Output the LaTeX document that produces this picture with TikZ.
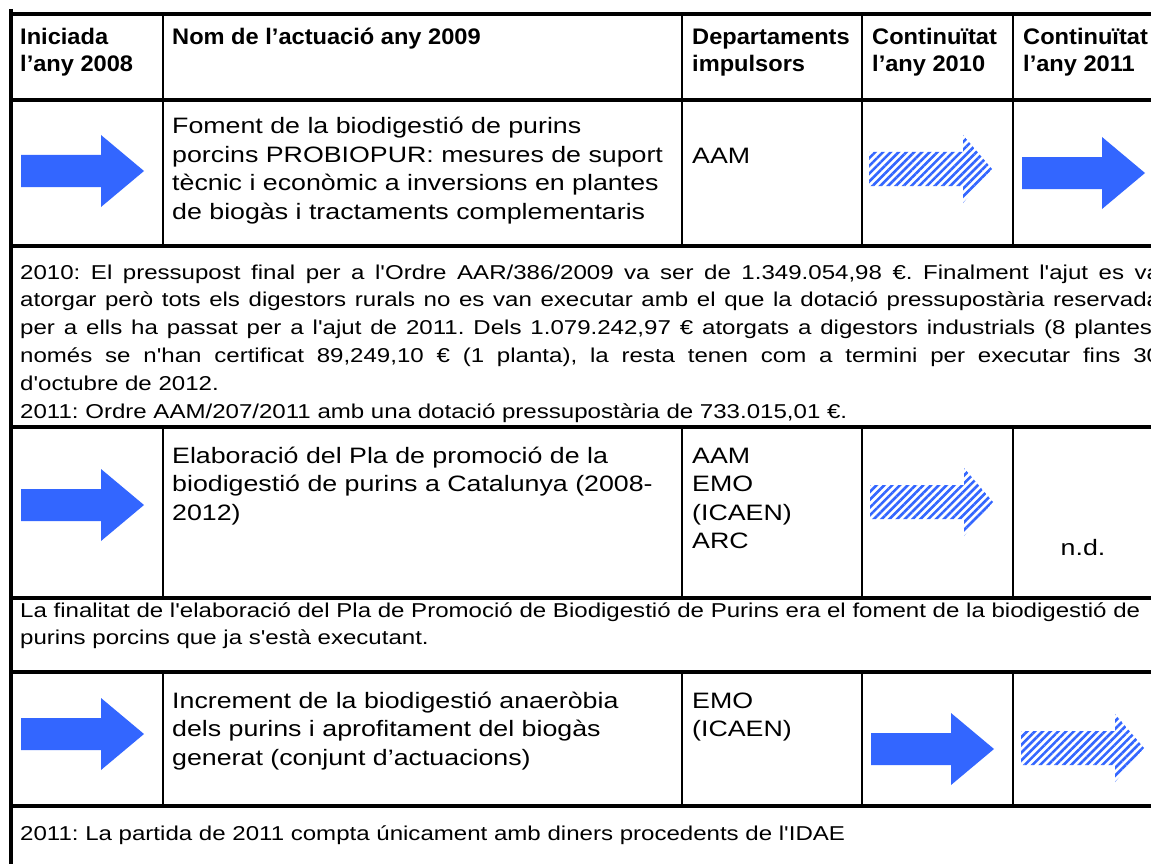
\documentclass[tikz,border=0pt]{standalone}
\usepackage{fontspec}
\setmainfont{Liberation Sans}[Ligatures=TeXOff,FakeStretch=1.2]
\newfontfamily\hdrfont{Liberation Sans Bold}[Ligatures=TeXOff,FakeStretch=1.05]
\usetikzlibrary{patterns.meta}
\definecolor{arrowblue}{RGB}{51,102,255}
\newcommand\stk[1]{\vtop{\halign{##\hfil\cr#1\crcr}}}
\newcommand\jl[1]{\hbox to 1140pt{#1}}
\tikzset{
 thickrule/.style={line width=4pt},
 thinrule/.style={line width=2pt},
 hdr/.style={inner sep=0pt, anchor=base west, font=\hdrfont\fontsize{22.5}{27}\selectfont},
 cell/.style={inner sep=0pt, anchor=base west, font=\fontsize{22.3}{28.5}\selectfont},
 note/.style={inner sep=0pt, anchor=base west, font=\fontsize{20.05}{27.8}\selectfont\frenchspacing},
 solidarrow/.pic={\fill[arrowblue] (0,-16) -- (80,-16) -- (80,-36) -- (123,0) -- (80,36) -- (80,16) -- (0,16) -- cycle;},
 hatcharrow/.pic={\fill[pattern={Lines[angle=45,distance=5.5pt,line width=2.6pt]}, pattern color=arrowblue] (0,-17) -- (94,-17) -- (94,-34) -- (123,0) -- (94,34) -- (94,17) -- (0,17) -- cycle;},
}
\begin{document}
\begin{tikzpicture}[x=1pt,y=-1pt]
\useasboundingbox[fill=white] (0,0) rectangle (1151,864);
\begin{scope}
\clip (0,0) rectangle (1151,864);
% arrows
\pic at (21,171) {solidarrow};
\pic at (869,169) {hatcharrow};
\pic at (1022,173) {solidarrow};
\pic at (21,505) {solidarrow};
\pic at (870,502) {hatcharrow};
\pic at (21,734) {solidarrow};
\pic at (871,749) {solidarrow};
\pic at (1021,748) {hatcharrow};
% rules
\draw[thickrule] (11,9) -- (11,870);
\foreach \y in {14,100,246,427,598,672,806} \draw[thickrule] (9,\y) -- (1160,\y);
\foreach \x in {163,682,862,1013} {
  \draw[thinrule] (\x,14) -- (\x,246);
  \draw[thinrule] (\x,427) -- (\x,598);
  \draw[thinrule] (\x,672) -- (\x,806);
}
% header
\node[hdr] (h1) at (20,45) {\stk{Iniciada\cr l’any 2008}};
\node[hdr] (h2) at (172,45) {Nom de l’actuació any 2009};
\node[hdr] (h3) at (692,45) {\stk{Departaments\cr impulsors}};
\node[hdr] (h4) at (872,45) {\stk{Continuïtat\cr l’any 2010}};
\node[hdr] (h5) at (1023,45) {\stk{Continuïtat\cr l’any 2011}};
% row 1
\node[cell] (r1n) at (172,134) {\stk{Foment de la biodigestió de purins\cr porcins PROBIOPUR: mesures de suport\cr tècnic i econòmic a inversions en plantes\cr de biogàs i tractaments complementaris}};
\node[cell] (r1d) at (692,164) {AAM};
\node[note] (n1) at (20,279) {\vtop{%
\jl{2010: El pressupost final per a l'Ordre AAR/386/2009 va ser de 1.349.054,98 €. Finalment l'ajut es va}
\jl{atorgar però tots els digestors rurals no es van executar amb el que la dotació pressupostària reservada}
\jl{per a ells ha passat per a l'ajut de 2011. Dels 1.079.242,97 € atorgats a digestors industrials (8 plantes)}
\jl{només se n'han certificat 89,249,10 € (1 planta), la resta tenen com a termini per executar fins 30}
\hbox{d'octubre de 2012.}
\hbox{2011: Ordre AAM/207/2011 amb una dotació pressupostària de 733.015,01 €.}}};
% row 2
\node[cell] (r2n) at (172,463) {\stk{Elaboració del Pla de promoció de la\cr biodigestió de purins a Catalunya (2008-\cr 2012)}};
\node[cell] (r2d) at (692,463) {\stk{AAM\cr EMO\cr (ICAEN)\cr ARC}};
\node[cell, anchor=base] (r2c5) at (1083,555) {n.d.};
\node[note] (n2) at (20,617) {\stk{La finalitat de l'elaboració del Pla de Promoció de Biodigestió de Purins era el foment de la biodigestió de\cr purins porcins que ja s'està executant.}};
% row 3
\node[cell] (r3n) at (172,708) {\stk{Increment de la biodigestió anaeròbia\cr dels purins i aprofitament del biogàs\cr generat (conjunt d’actuacions)}};
\node[cell] (r3d) at (692,708) {\stk{EMO\cr (ICAEN)}};
\node[note] (n3) at (20,840) {2011: La partida de 2011 compta únicament amb diners procedents de l'IDAE};
\end{scope}
\end{tikzpicture}
\end{document}
